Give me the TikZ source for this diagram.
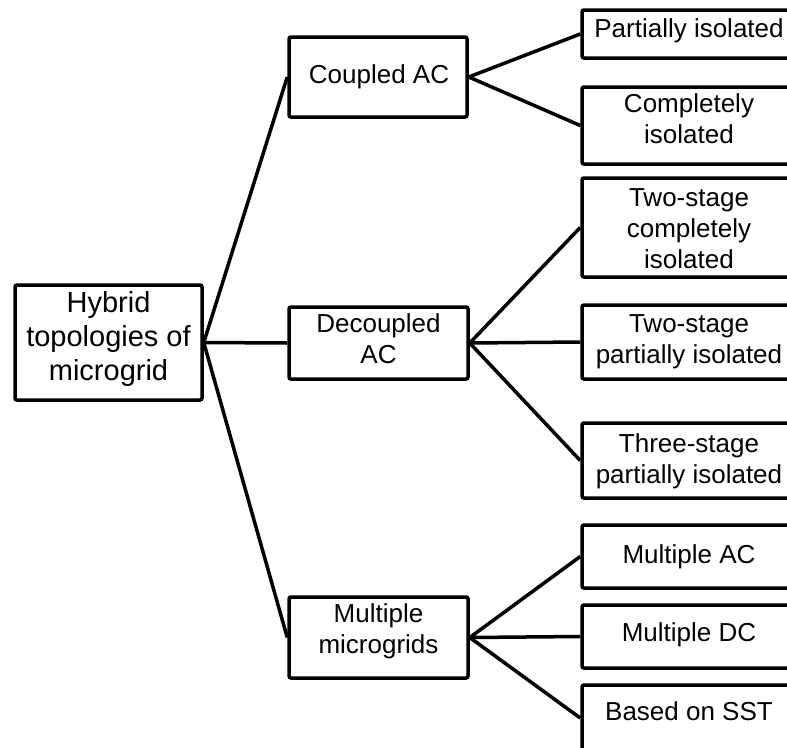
\documentclass[tikz,border=0pt]{standalone}
\usepackage{fontspec}
\setmainfont{Liberation Sans}
\begin{document}
\begin{tikzpicture}[x=1pt,y=-1pt,
  box/.style={draw=black, line width=3.5pt, rounded corners=2pt, inner sep=0pt, fill=white},
  txt/.style={inner sep=0pt, align=center, font=\fontsize{26}{31}\selectfont},
  link/.style={draw=black, line width=3.5pt, line join=round}]
\useasboundingbox (0,0) rectangle (787,747);
\clip (0,0) rectangle (787,747);

% boxes
\node[box, minimum width=187pt, minimum height=115pt] (root) at (108.5,342.5) {};
\node[box, minimum width=178pt, minimum height=80pt] (cac) at (378,77) {};
\node[box, minimum width=179pt, minimum height=72pt] (dac) at (378.5,343) {};
\node[box, minimum width=179pt, minimum height=81pt] (mmg) at (378.5,637.5) {};

\node[box, minimum width=214pt, minimum height=48pt] (pi)  at (689,34) {};
\node[box, minimum width=214pt, minimum height=77pt] (ci)  at (689,125.5) {};
\node[box, minimum width=214pt, minimum height=99pt] (tsc) at (689,227.5) {};
\node[box, minimum width=214pt, minimum height=74pt] (tsp) at (689,342) {};
\node[box, minimum width=214pt, minimum height=75pt] (ths) at (689,460.5) {};
\node[box, minimum width=214pt, minimum height=63pt] (mac) at (689,556.5) {};
\node[box, minimum width=214pt, minimum height=63pt] (mdc) at (689,636.5) {};
\node[box, minimum width=214pt, minimum height=66pt] (sst) at (689,718) {};

% texts
\node[txt, font=\fontsize{29}{34}\selectfont] (troot) at (108.5,339.7) {\strut Hybrid\\topologies of\\microgrid\strut};
\node[txt] (tcac) at (379,76.8) {\strut Coupled AC\strut};
\node[txt] (tdac) at (378.5,341.3) {\strut Decoupled\\AC\strut};
\node[txt] (tmmg) at (378.5,631.8) {\strut Multiple\\microgrids\strut};

\node[txt] (tpi)  at (689,30.8)  {\strut Partially isolated\strut};
\node[txt] (tci)  at (689,121.8) {\strut Completely\\isolated\strut};
\node[txt] (ttsc) at (689,231.3) {\strut Two-stage\\completely\\isolated\strut};
\node[txt] (ttsp) at (689,341.3) {\strut Two-stage\\partially isolated\strut};
\node[txt] (tths) at (689,461.3) {\strut Three-stage\\partially isolated\strut};
\node[txt] (tmac) at (689,556.8) {\strut Multiple AC\strut};
\node[txt] (tmdc) at (689,634.8) {\strut Multiple DC\strut};
\node[txt] (tsst) at (689,713.8) {\strut Based on SST\strut};

% connectors
\draw[link] (root.east) -- (cac.west);
\draw[link] (root.east) -- (dac.west);
\draw[link] (root.east) -- (mmg.west);

\draw[link] (cac.east) -- (pi.west);
\draw[link] (cac.east) -- (ci.west);

\draw[link] (dac.east) -- (tsc.west);
\draw[link] (dac.east) -- (tsp.west);
\draw[link] (dac.east) -- (ths.west);

\draw[link] (mmg.east) -- (mac.west);
\draw[link] (mmg.east) -- (mdc.west);
\draw[link] (mmg.east) -- (sst.west);
\end{tikzpicture}
\end{document}
